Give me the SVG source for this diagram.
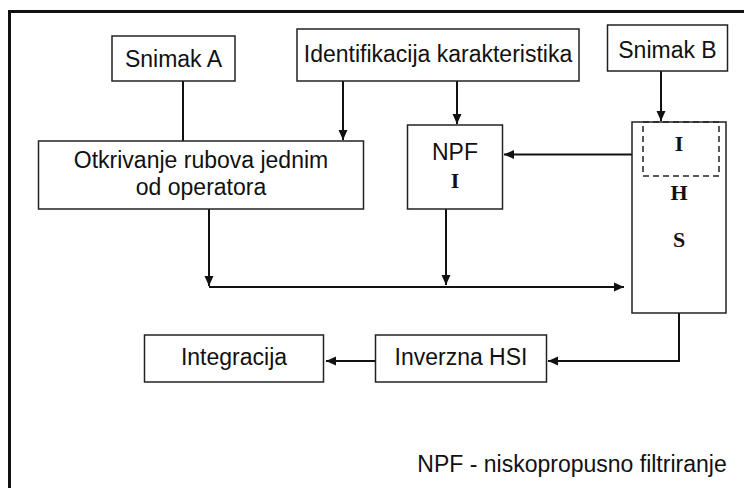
<svg xmlns="http://www.w3.org/2000/svg" width="744" height="488" viewBox="0 0 744 488">
<style>
.box{fill:#fff;stroke:#222;stroke-width:1.5}
.t{font-family:"Liberation Sans",Arial,sans-serif;font-size:23px;fill:#111;text-anchor:middle}
.b{font-family:"Liberation Serif","Times New Roman",serif;font-size:22px;font-weight:bold;fill:#111;text-anchor:middle}
.c{fill:none;stroke:#111;stroke-width:2}
</style>
<defs>
<marker id="ah" viewBox="0 0 10 10" refX="10" refY="5" markerWidth="10" markerHeight="10" markerUnits="userSpaceOnUse" orient="auto">
<path d="M0,0.5 L10,5 L0,9.5 Z" fill="#111"/>
</marker>
</defs>
<rect x="0" y="0" width="744" height="488" fill="#fff"/>
<rect x="9.5" y="11.5" width="750" height="500" fill="none" stroke="#111" stroke-width="3"/>
<g id="connectors">
<path class="c" d="M183,81 V141"/>
<path class="c" d="M343,81 V140" marker-end="url(#ah)"/>
<path class="c" d="M457,81 V124" marker-end="url(#ah)"/>
<path class="c" d="M661,71 V121" marker-end="url(#ah)"/>
<path class="c" d="M632,154.5 H504" marker-end="url(#ah)"/>
<path class="c" d="M209,209 V286" marker-end="url(#ah)"/>
<path class="c" d="M446,209 V285" marker-end="url(#ah)"/>
<path class="c" d="M209,287 H624" marker-end="url(#ah)"/>
<path class="c" d="M679,313 V361 H548" marker-end="url(#ah)"/>
<path class="c" d="M375,361 H326" marker-end="url(#ah)"/>
</g>
<g id="snimakA">
<rect class="box" x="112" y="36" width="123" height="45"/>
<text class="t" x="173.5" y="67">Snimak A</text>
</g>
<g id="identifikacija">
<rect class="box" x="297" y="29" width="282" height="52"/>
<text class="t" x="438" y="62">Identifikacija karakteristika</text>
</g>
<g id="snimakB">
<rect class="box" x="607.5" y="25" width="120" height="46"/>
<text class="t" x="667.5" y="58">Snimak B</text>
</g>
<g id="otkrivanje">
<rect class="box" x="38.5" y="141" width="325" height="68"/>
<text class="t" x="201" y="168">Otkrivanje rubova jednim</text>
<text class="t" x="201" y="195">od operatora</text>
</g>
<g id="npf">
<rect class="box" x="407.5" y="125" width="95" height="84"/>
<text class="t" x="455" y="160">NPF</text>
<text class="b" x="455" y="188">I</text>
</g>
<g id="hsi">
<rect class="box" x="632" y="122" width="94" height="191"/>
<rect x="643" y="122" width="76" height="54" fill="none" stroke="#222" stroke-width="1.5" stroke-dasharray="6,4"/>
<text class="b" x="679" y="151">I</text>
<text class="b" x="679" y="200">H</text>
<text class="b" x="679" y="247">S</text>
</g>
<g id="inverzna">
<rect class="box" x="375.5" y="335" width="171" height="47"/>
<text class="t" x="461" y="365">Inverzna HSI</text>
</g>
<g id="integracija">
<rect class="box" x="144.5" y="335" width="179" height="47"/>
<text class="t" x="234" y="364.5">Integracija</text>
</g>
<text class="t" x="572" y="472">NPF - niskopropusno filtriranje</text>
</svg>
